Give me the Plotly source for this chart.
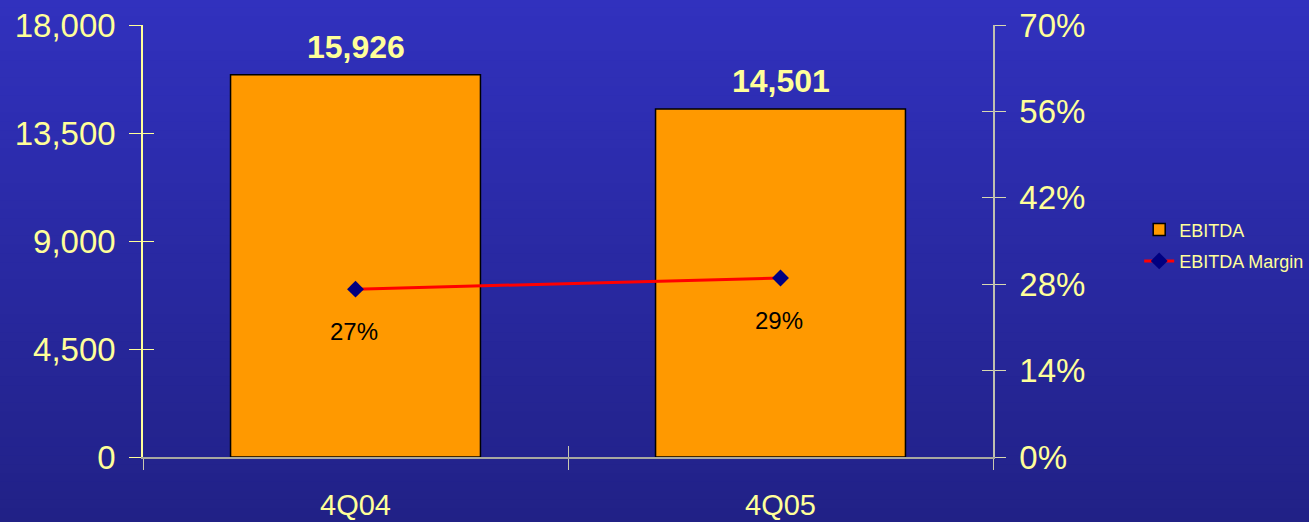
import plotly.graph_objects as go

categories = ["4Q04", "4Q05"]
ebitda = [15926, 14501]
margin = [0.272, 0.290]
ebitda_labels = ["15,926", "14,501"]
margin_labels = ["27%", "29%"]
left_ticks = [0, 4500, 9000, 13500, 18000]
left_ticktext = ["0", "4,500", "9,000", "13,500", "18,000"]
right_ticks = [0, 0.14, 0.28, 0.42, 0.56, 0.70]
right_ticktext = ["0%", "14%", "28%", "42%", "56%", "70%"]

YEL = "#FFFF99"
FONT = "Liberation Sans, Arial, sans-serif"

fig = go.Figure()
fig.add_trace(go.Bar(
    x=categories, y=ebitda, name="EBITDA", width=0.588, legendgroup="a",
    marker=dict(color="#FF9900", line=dict(color="#000000", width=1.5)),
    yaxis="y", xaxis="x",
))
fig.add_trace(go.Scatter(
    x=categories, y=margin, name="EBITDA Margin", mode="lines+markers", legendgroup="b",
    line=dict(color="#FF0000", width=3),
    marker=dict(symbol="diamond", size=13, color="#000080"),
    yaxis="y2", xaxis="x",
))

annotations = []
for c, v, t in zip(categories, ebitda, ebitda_labels):
    annotations.append(dict(x=c, y=v, xref="x", yref="y", text="<b>%s</b>" % t,
                            showarrow=False, yanchor="bottom", yshift=8,
                            font=dict(family=FONT, size=32, color=YEL)))
for c, v, t in zip(categories, margin, margin_labels):
    annotations.append(dict(x=c, y=v, xref="x", yref="y2", text=t,
                            showarrow=False, yanchor="middle", yshift=-42, xshift=-2,
                            font=dict(family=FONT, size=24, color="#000000")))

# gradient background
shapes = []
n = 60
top = (49, 49, 190)
bot = (33, 33, 134)
for i in range(n):
    f = i / (n - 1)
    col = "rgb(%d,%d,%d)" % tuple(round(top[k] + (bot[k] - top[k]) * f) for k in range(3))
    shapes.append(dict(type="rect", xref="paper", yref="paper", layer="below",
                       x0=-0.2, x1=1.4, y0=1.06 - (i + 1) * (1.22 / n) - 0.001,
                       y1=1.06 - i * (1.22 / n) + 0.001,
                       fillcolor=col, line=dict(width=0)))

fig.update_layout(
    width=1309, height=522,
    margin=dict(l=143, r=316, t=25, b=65, autoexpand=False),
    paper_bgcolor="rgb(41,41,162)",
    plot_bgcolor="rgba(0,0,0,0)",
    font=dict(family=FONT, color=YEL),
    bargap=0.412,
    shapes=shapes,
    annotations=annotations,
    showlegend=True,
    legend=dict(x=1.172, y=0.49, xanchor="left", yanchor="middle",
                font=dict(family=FONT, size=18, color=YEL),
                bgcolor="rgba(0,0,0,0)", tracegroupgap=5),
    xaxis=dict(type="category", range=[-0.5, 1.5], tickson="boundaries",
               ticks="outside", ticklen=11, tickcolor="#C8C8B0", tickwidth=1,
               showline=True, linecolor="#A8A8A0", linewidth=2,
               showgrid=False, zeroline=False, automargin=False,
               tickfont=dict(family=FONT, size=29, color=YEL),
               ticklabelstandoff=21, fixedrange=True),
    xaxis2=dict(overlaying="x", range=[-0.5, 1.5], tickvals=[0.5],
                ticks="inside", ticklen=11, tickcolor="#C8C8B0",
                showticklabels=False, showgrid=False, zeroline=False,
                showline=False, side="bottom", automargin=False),
    yaxis=dict(range=[0, 18000], tickvals=left_ticks, ticktext=left_ticktext,
               ticks="outside", ticklen=12, tickcolor=YEL, tickwidth=1,
               showline=True, linecolor=YEL, linewidth=1.5,
               showgrid=False, zeroline=False, automargin=False,
               tickfont=dict(family=FONT, size=33, color=YEL),
               ticklabelstandoff=7),
    yaxis2=dict(range=[0, 0.70], tickvals=right_ticks, ticktext=right_ticktext,
                overlaying="y", side="right", anchor="x",
                ticks="outside", ticklen=11, tickcolor="#D8D8B0", tickwidth=1,
                showline=True, linecolor="#C0C0B0", linewidth=1.5,
                showgrid=False, zeroline=False, automargin=False,
                tickfont=dict(family=FONT, size=33, color=YEL),
                ticklabelstandoff=7),
    yaxis3=dict(range=[0, 18000], tickvals=left_ticks, overlaying="y", side="left",
                anchor="x", ticks="inside", ticklen=11, tickcolor=YEL, automargin=False,
                showticklabels=False, showgrid=False, zeroline=False, showline=False),
    yaxis4=dict(range=[0, 0.70], tickvals=right_ticks, overlaying="y", side="right",
                anchor="x", ticks="inside", ticklen=11, tickcolor="#D8D8B0", automargin=False,
                showticklabels=False, showgrid=False, zeroline=False, showline=False),
)
# invisible traces to activate auxiliary tick axes
fig.add_trace(go.Scatter(x=[0], y=[0], xaxis="x2", yaxis="y3", mode="markers",
                         marker=dict(opacity=0), showlegend=False, hoverinfo="skip"))
fig.add_trace(go.Scatter(x=[0], y=[0], xaxis="x2", yaxis="y4", mode="markers",
                         marker=dict(opacity=0), showlegend=False, hoverinfo="skip"))

fig.write_html("out.html")
